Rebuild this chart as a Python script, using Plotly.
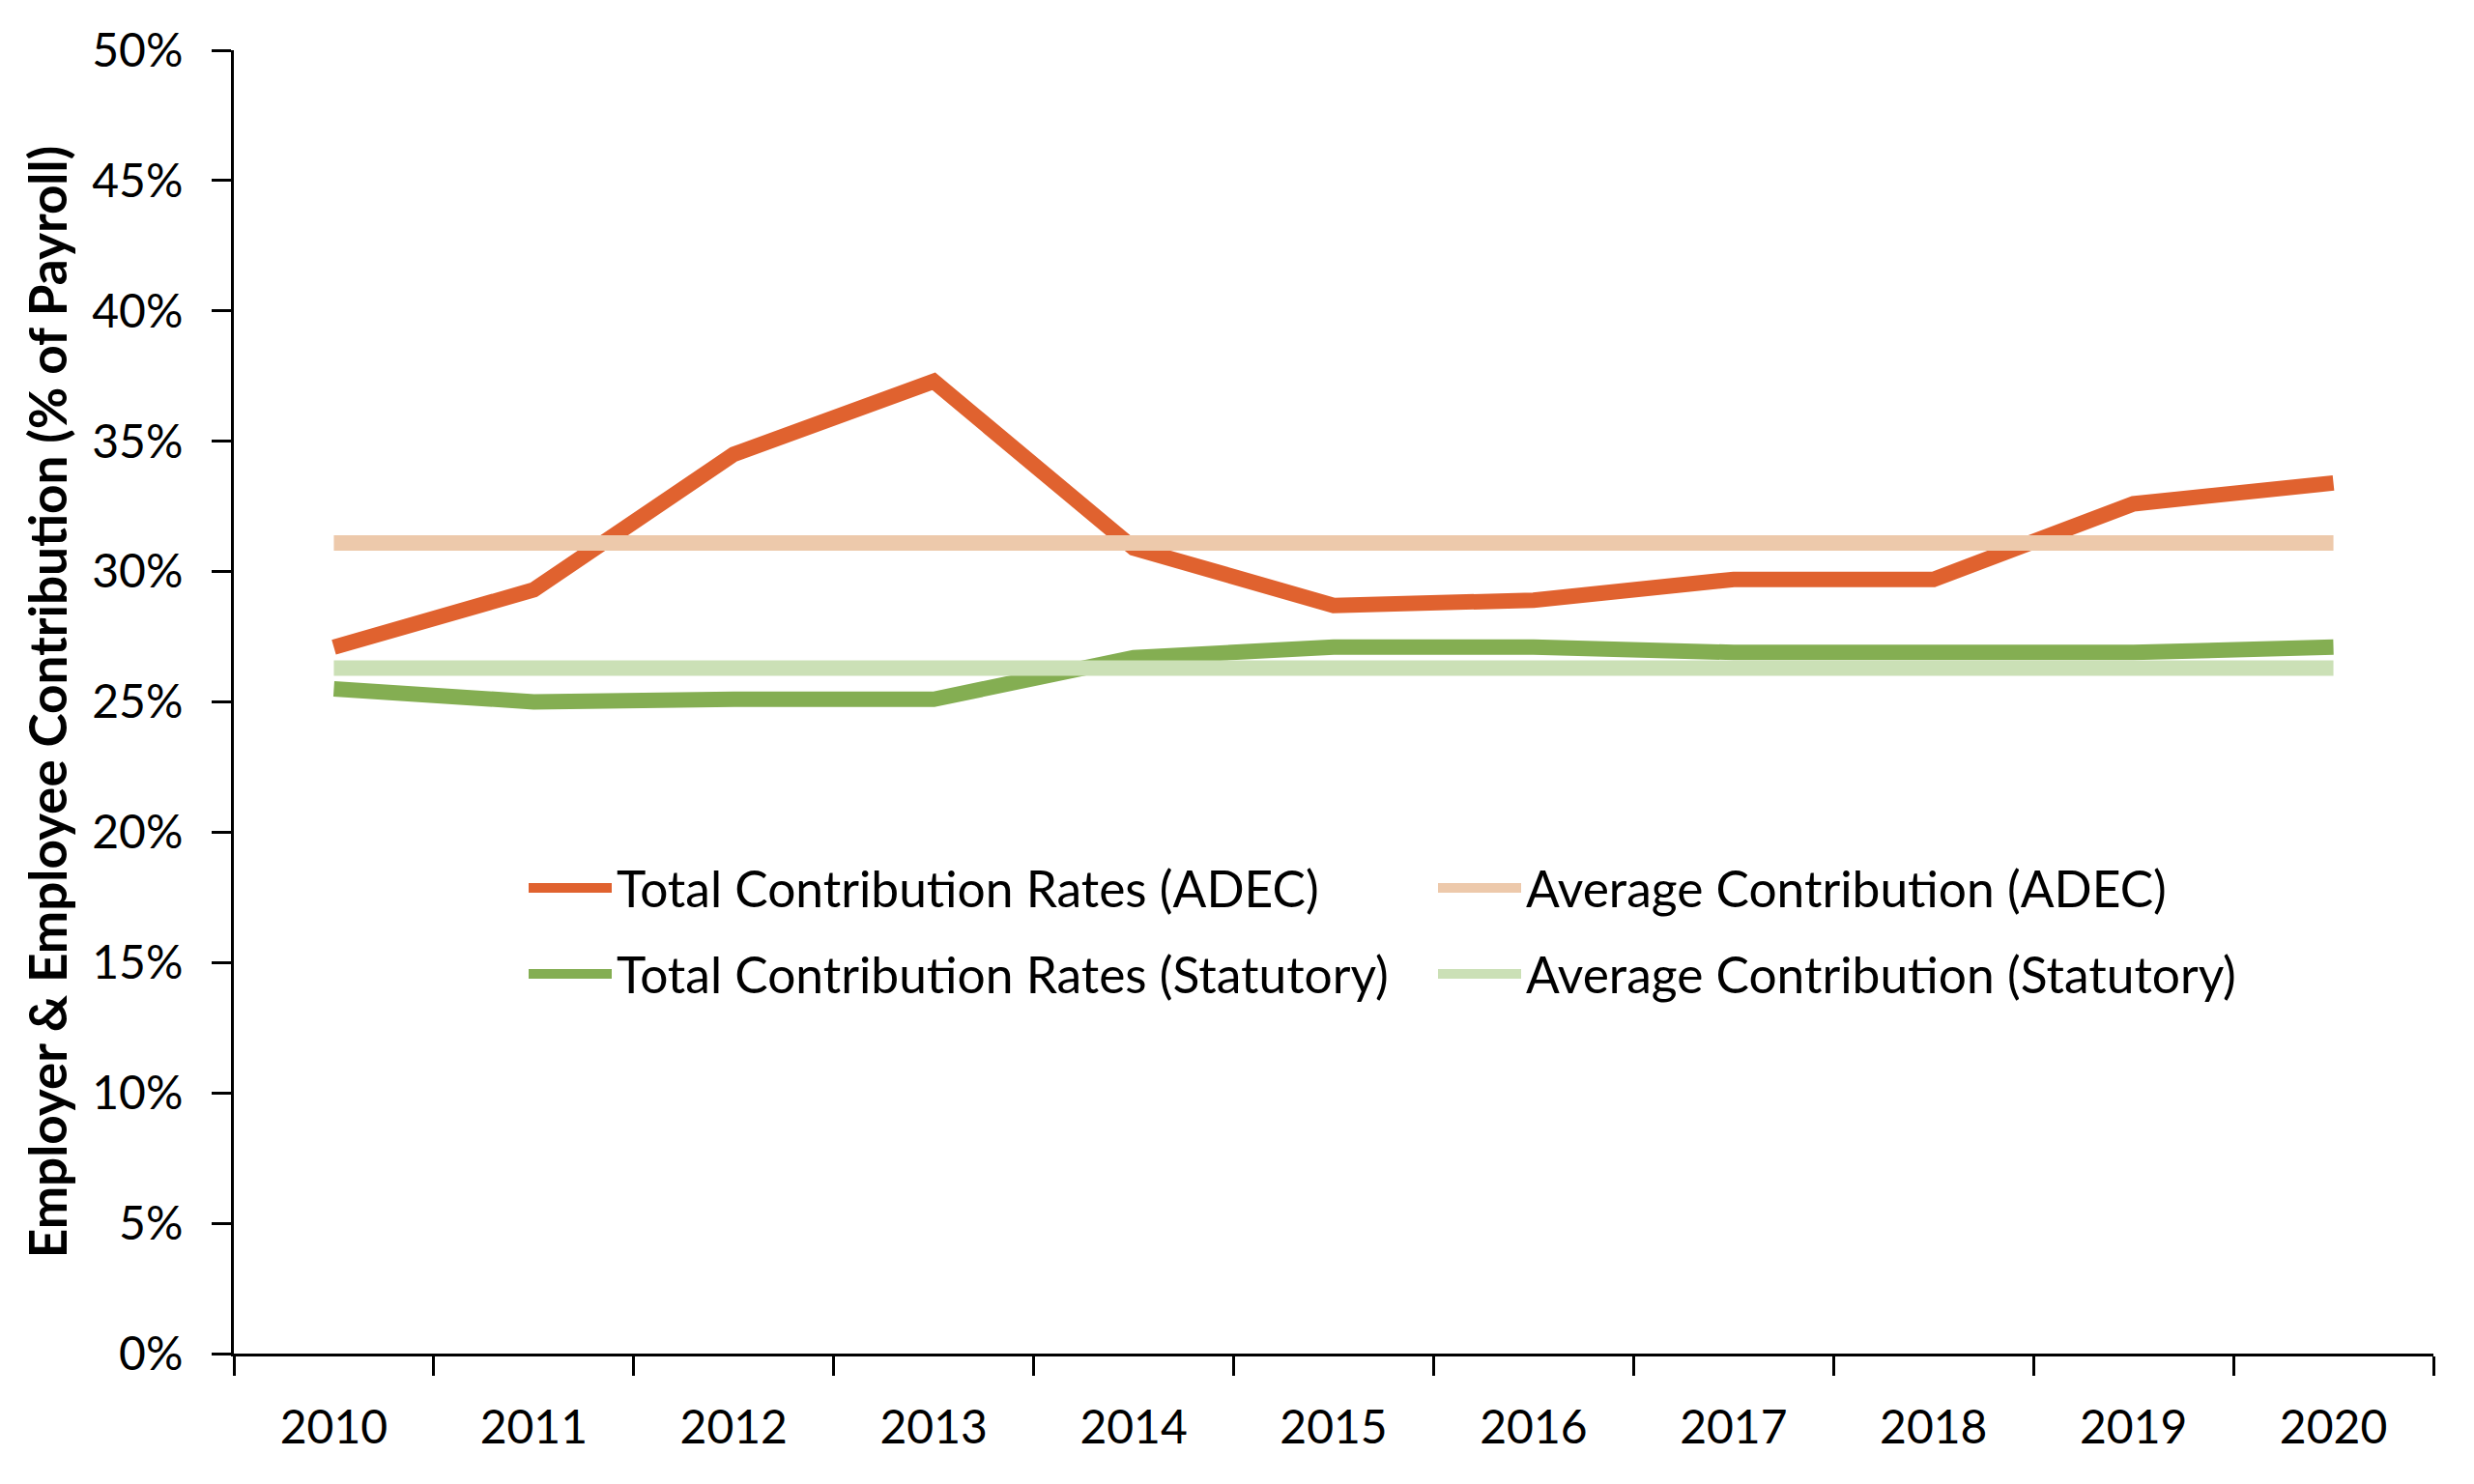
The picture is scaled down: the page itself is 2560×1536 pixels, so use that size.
import plotly.graph_objects as go

years = ["2010", "2011", "2012", "2013", "2014", "2015", "2016", "2017", "2018", "2019", "2020"]
adec_total = [27.1, 29.3, 34.5, 37.3, 30.9, 28.7, 28.9, 29.7, 29.7, 32.6, 33.4]
statutory_total = [25.5, 25.0, 25.1, 25.1, 26.7, 27.1, 27.1, 26.9, 26.9, 26.9, 27.1]
adec_avg = [31.1] * len(years)
statutory_avg = [26.3] * len(years)

names = [
    "Total Contribution Rates (ADEC)",
    "Average Contribution (ADEC)",
    "Total Contribution Rates (Statutory)",
    "Average Contribution (Statutory)",
]
colors = ["#E0622F", "#EDC9AB", "#84AE52", "#CBE0B6"]

# page has an 8px body margin; plot area target in page coords: x 242..2518, y 52..1401
W, H = 2552, 1528
ML, MR, MT, MB = 234, 42, 44, 135
PW = W - ML - MR
PH = H - MT - MB
OFF = 8

def ypaper(py):
    return (OFF + MT + PH - py) / PH

def xpaper(px):
    return (px - OFF - ML) / PW

FONT = "Lato"
fig = go.Figure()
series = [adec_total, adec_avg, statutory_total, statutory_avg]
legends = ["legend", "legend", "legend2", "legend2"]
for name, vals, col, lg in zip(names, series, colors, legends):
    fig.add_trace(go.Scatter(
        x=years, y=vals, name=name, mode="lines",
        line=dict(color=col, width=16),
        legend=lg,
    ))

leg_common = dict(
    orientation="h",
    xanchor="left",
    yanchor="middle",
    x=xpaper(542),
    bgcolor="rgba(0,0,0,0)",
    font=dict(family=FONT, size=51.5, color="black"),
    entrywidthmode="pixels",
    entrywidth=840,
    itemwidth=86,
    tracegroupgap=0,
)

fig.update_layout(
    width=W, height=H,
    margin=dict(l=ML, r=MR, t=MT, b=MB, autoexpand=False),
    paper_bgcolor="white",
    plot_bgcolor="white",
    font=dict(family=FONT, size=48, color="black"),
    showlegend=True,
    legend=dict(leg_common, y=ypaper(919)),
    legend2=dict(leg_common, y=ypaper(1008)),
    xaxis=dict(
        type="category",
        range=[-0.5, 10.5],
        tickson="boundaries",
        ticks="outside",
        ticklen=20,
        tickwidth=3,
        tickcolor="black",
        showline=True,
        linecolor="black",
        linewidth=3,
        showgrid=False,
        zeroline=False,
        ticklabelstandoff=32,
        tickfont=dict(family=FONT, size=48, color="black"),
        automargin=False,
    ),
    yaxis=dict(
        range=[0, 50],
        dtick=5,
        tick0=0,
        ticksuffix="%",
        ticks="outside",
        ticklen=20,
        tickwidth=3,
        tickcolor="black",
        showline=True,
        linecolor="black",
        linewidth=3,
        showgrid=False,
        zeroline=False,
        ticklabelstandoff=20,
        tickfont=dict(family=FONT, size=48, color="black"),
        title=dict(
            text="<b>Employer & Employee Contribution (% of Payroll)</b>",
            font=dict(family=FONT, size=53, color="black"),
            standoff=9,
        ),
        automargin=False,
    ),
)

fig.write_html("out.html")
